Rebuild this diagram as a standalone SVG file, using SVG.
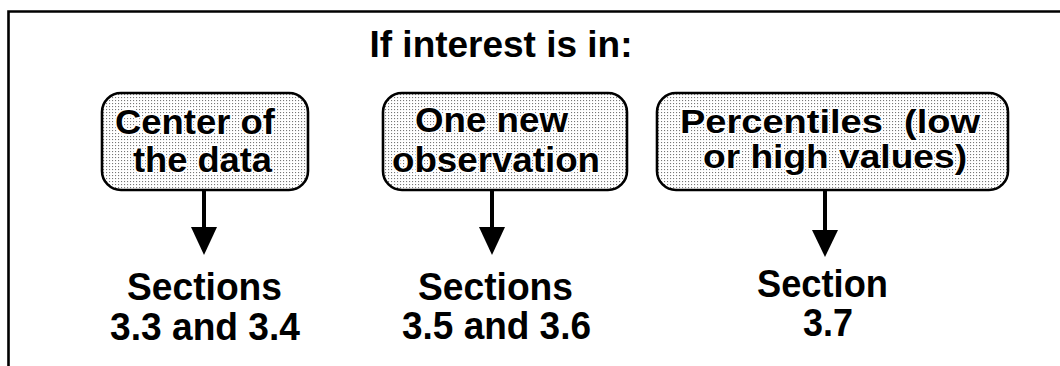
<svg xmlns="http://www.w3.org/2000/svg" width="1060" height="366" viewBox="0 0 1060 366">
  <defs>
    <pattern id="dots" width="3" height="3" patternUnits="userSpaceOnUse">
      <rect width="3" height="3" fill="#ffffff"/>
      <rect x="1" y="1" width="1.1" height="1.1" fill="#777777"/>
    </pattern>
    <style>
      .t { font-family: "Liberation Sans", Arial, sans-serif; font-weight: bold; font-size: 36px; fill: #000; text-anchor: middle; }
      .bt { font-size: 35px; paint-order: stroke; stroke: #ffffff; stroke-width: 3px; stroke-linejoin: round; }
      .bt3 { font-size: 34px; }
      .st { font-size: 38px; }
      .box { fill: url(#dots); stroke: #000; stroke-width: 2.6; }
      .frame { fill: none; stroke: #000; stroke-width: 2.6; }
      .line { stroke: #000; stroke-width: 4; fill: none; }
      .head { fill: #000; stroke: none; }
    </style>
  </defs>
  <rect width="1060" height="366" fill="#ffffff"/>
  <path class="frame" d="M8.5,366 V11.5 H1060"/>

  <g id="title">
    <text class="t" x="501" y="57" textLength="263" lengthAdjust="spacingAndGlyphs">If interest is in:</text>
  </g>

  <g id="node-center">
    <rect class="box" x="102" y="93" width="206" height="97" rx="19"/>
    <text class="t bt" x="195" y="134" textLength="160" lengthAdjust="spacingAndGlyphs">Center of</text>
    <text class="t bt" x="202.5" y="172" textLength="139" lengthAdjust="spacingAndGlyphs">the data</text>
  </g>

  <g id="node-new">
    <rect class="box" x="383" y="93" width="244" height="97" rx="19"/>
    <text class="t bt" x="491.5" y="132" textLength="153" lengthAdjust="spacingAndGlyphs">One new</text>
    <text class="t bt" x="496" y="172" textLength="208" lengthAdjust="spacingAndGlyphs">observation</text>
  </g>

  <g id="node-percentiles">
    <rect class="box" x="657" y="93" width="351" height="97" rx="19"/>
    <text class="t bt bt3" x="830" y="133" textLength="300" lengthAdjust="spacingAndGlyphs" xml:space="preserve">Percentiles  (low</text>
    <text class="t bt bt3" x="835" y="168" textLength="264" lengthAdjust="spacingAndGlyphs">or high values)</text>
  </g>

  <g id="connectors">
    <line class="line" x1="204" y1="190" x2="204" y2="229"/>
    <polygon class="head" points="191,227 217,227 204,255"/>
    <line class="line" x1="492" y1="190" x2="492" y2="229"/>
    <polygon class="head" points="479,227 505,227 492,255"/>
    <line class="line" x1="825" y1="190" x2="825" y2="232"/>
    <polygon class="head" points="812,230 838,230 825,257"/>
  </g>

  <g id="node-s34">
    <text class="t st" x="204.5" y="300" textLength="155" lengthAdjust="spacingAndGlyphs">Sections</text>
    <text class="t st" x="205" y="340" textLength="190" lengthAdjust="spacingAndGlyphs">3.3 and 3.4</text>
  </g>

  <g id="node-s56">
    <text class="t st" x="495.5" y="300" textLength="155" lengthAdjust="spacingAndGlyphs">Sections</text>
    <text class="t st" x="496.5" y="339" textLength="189" lengthAdjust="spacingAndGlyphs">3.5 and 3.6</text>
  </g>

  <g id="node-s7">
    <text class="t st" x="822.5" y="297" textLength="131" lengthAdjust="spacingAndGlyphs">Section</text>
    <text class="t st" x="828" y="336" textLength="50" lengthAdjust="spacingAndGlyphs">3.7</text>
  </g>
</svg>
